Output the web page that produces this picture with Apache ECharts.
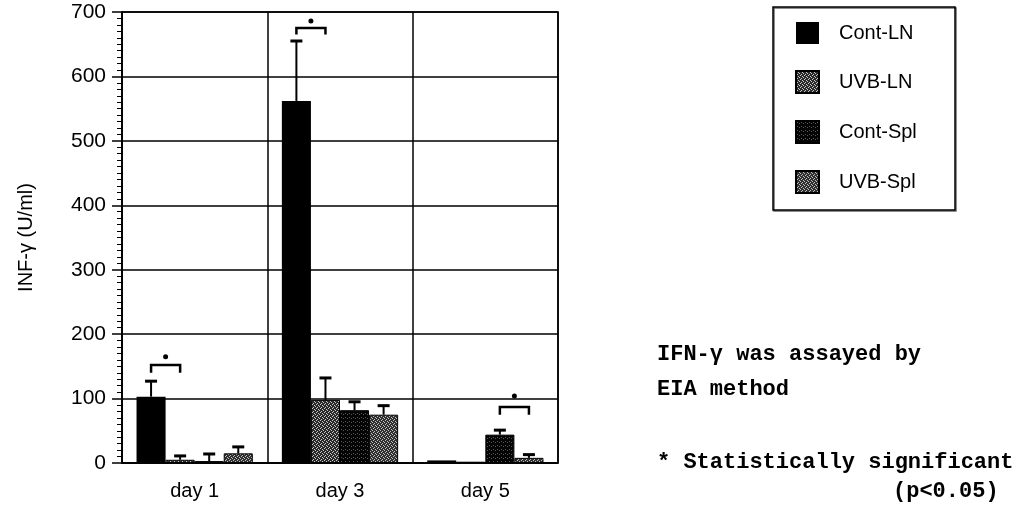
<!DOCTYPE html>
<html>
<head>
<meta charset="utf-8">
<script src="https://cdn.jsdelivr.net/npm/echarts@6/dist/echarts.min.js"></script>
<style>
html, body { margin: 0; padding: 0; background: #fff; }
#chart { width: 1021px; height: 513px; }
</style>
</head>
<body>
<div id="chart"></div>
<script>
var days = ['day 1', 'day 3', 'day 5'];
var groups = ['Cont-LN', 'UVB-LN', 'Cont-Spl', 'UVB-Spl'];

var contLN = [103, 562, 4];
var uvbLN = [5, 98, 2];
var contSpl = [3, 82, 44];
var uvbSpl = [15, 75, 8];

// top of error bar (mean + SD), null = none
var contLNErr = [127, 655, null];
var uvbLNErr = [11, 132, null];
var contSplErr = [14, 95, 51];
var uvbSplErr = [25, 89, 13];

// significance brackets
var sigDay = [0, 1, 2];
var sigFrom = [0, 0, 2];
var sigTo = [1, 1, 3];
var sigTop = [152, 675, 87];
var sigLeg = [140, 665, 75];
var sigStar = [165, 686, 104];

var CAT_GAP = 0.2;
var FONT = 'Liberation Sans';
var NOTE_FONT = 'bold 22px "Liberation Mono"';

function makePattern(bg, fg, dots) {
    var c = document.createElement('canvas');
    c.width = 4;
    c.height = 4;
    var ctx = c.getContext('2d');
    ctx.fillStyle = bg;
    ctx.fillRect(0, 0, 4, 4);
    ctx.fillStyle = fg;
    dots.forEach(function (p) {
        ctx.fillRect(p[0], p[1], 1, 1);
    });
    return {image: c, repeat: 'repeat'};
}

var fills = [
    '#000',
    makePattern('#2a2a2a', '#c8c8c8', [[0, 0], [2, 1], [1, 3], [3, 2]]),
    makePattern('#050505', '#5a5a5a', [[1, 1], [3, 2]]),
    makePattern('#303030', '#c0c0c0', [[1, 0], [3, 1], [0, 2], [2, 3]])
];

var values = [contLN, uvbLN, contSpl, uvbSpl];
var errs = [contLNErr, uvbLNErr, contSplErr, uvbSplErr];

var errData = [];
for (var g = 0; g < groups.length; g++) {
    for (var d = 0; d < days.length; d++) {
        if (errs[g][d] != null) {
            errData.push([d, g, values[g][d], errs[g][d]]);
        }
    }
}

var sigData = [];
for (var i = 0; i < sigDay.length; i++) {
    sigData.push([sigDay[i], sigFrom[i], sigTo[i], sigTop[i], sigLeg[i], sigStar[i]]);
}

function barCenter(api, day, idx) {
    var band = api.size([1, 0])[0];
    var bw = band * (1 - CAT_GAP) / 4;
    return api.coord([day, 0])[0] + (idx - 1.5) * bw;
}

function renderErr(params, api) {
    var d = api.value(0);
    var cx = barCenter(api, d, api.value(1));
    var y0 = api.coord([d, api.value(2)])[1];
    var y1 = api.coord([d, api.value(3)])[1];
    return {
        type: 'group',
        children: [
            {type: 'line', shape: {x1: cx, y1: y0, x2: cx, y2: y1}, style: {stroke: '#000', lineWidth: 2}},
            {type: 'line', shape: {x1: cx - 6, y1: y1, x2: cx + 6, y2: y1}, style: {stroke: '#000', lineWidth: 3}}
        ]
    };
}

function renderSig(params, api) {
    var d = api.value(0);
    var xa = barCenter(api, d, api.value(1));
    var xb = barCenter(api, d, api.value(2));
    var yt = api.coord([d, api.value(3)])[1];
    var yl = api.coord([d, api.value(4)])[1];
    var ys = api.coord([d, api.value(5)])[1];
    return {
        type: 'group',
        children: [
            {
                type: 'polyline',
                shape: {points: [[xa, yl], [xa, yt], [xb, yt], [xb, yl]]},
                style: {stroke: '#000', lineWidth: 2.5, fill: null}
            },
            {type: 'circle', shape: {cx: (xa + xb) / 2, cy: ys, r: 2.5}, style: {fill: '#000'}}
        ]
    };
}

var series = [];
for (var k = 0; k < groups.length; k++) {
    series.push({
        name: groups[k],
        type: 'bar',
        data: values[k],
        barGap: '0%',
        barCategoryGap: (CAT_GAP * 100) + '%',
        itemStyle: {color: fills[k], borderColor: '#000', borderWidth: k === 0 ? 0 : 1},
        z: 3
    });
}
series.push({
    type: 'custom',
    renderItem: renderErr,
    data: errData,
    encode: {x: 0, y: [2, 3]},
    z: 4,
    silent: true
});
series.push({
    type: 'custom',
    renderItem: renderSig,
    data: sigData,
    encode: {x: 0, y: [3, 5]},
    z: 4,
    silent: true
});

var myChart = echarts.init(document.getElementById('chart'));
var option = {
    animation: false,
    backgroundColor: '#fff',
    grid: {
        left: 122,
        right: 463,
        top: 12,
        bottom: 50,
        show: true,
        borderColor: '#000',
        borderWidth: 1.5
    },
    legend: {
        data: groups,
        orient: 'vertical',
        left: 795,
        top: 22,
        padding: 0,
        itemWidth: 23,
        itemHeight: 22,
        itemGap: 26,
        icon: 'rect',
        textStyle: {fontSize: 20, fontFamily: FONT, color: '#000', padding: [0, 0, 0, 15]}
    },
    xAxis: {
        type: 'category',
        data: days,
        axisLine: {lineStyle: {color: '#000', width: 1.5}},
        axisTick: {length: 12, lineStyle: {color: '#000', width: 1.5}},
        axisLabel: {fontSize: 20, fontFamily: FONT, color: '#000', margin: 18},
        splitLine: {show: true, lineStyle: {color: '#000', width: 1.5}}
    },
    yAxis: {
        type: 'value',
        min: 0,
        max: 700,
        interval: 100,
        name: 'INF-γ (U/ml)',
        nameLocation: 'middle',
        nameGap: 86,
        nameTextStyle: {fontSize: 20, fontFamily: FONT, color: '#000'},
        axisLine: {show: true, lineStyle: {color: '#000', width: 1.5}},
        axisTick: {show: true, length: 10, lineStyle: {color: '#000', width: 1.5}},
        minorTick: {show: true, splitNumber: 10, length: 5, lineStyle: {color: '#000'}},
        axisLabel: {fontSize: 21, fontFamily: FONT, color: '#000', margin: 16},
        splitLine: {lineStyle: {color: '#000', width: 1.5}}
    },
    graphic: [
        {
            type: 'rect',
            shape: {x: 773, y: 7, width: 182, height: 203},
            style: {fill: null, stroke: '#000', lineWidth: 1.5, shadowColor: 'rgba(0,0,0,0.6)', shadowOffsetX: 1, shadowOffsetY: 1}
        },
        {
            type: 'text', left: 657, top: 343,
            style: {text: 'IFN-γ was assayed by', font: NOTE_FONT, fill: '#000'}
        },
        {
            type: 'text', left: 657, top: 378,
            style: {text: 'EIA method', font: NOTE_FONT, fill: '#000'}
        },
        {
            type: 'text', left: 657, top: 451,
            style: {text: '* Statistically significant', font: NOTE_FONT, fill: '#000'}
        },
        {
            type: 'text', left: 893, top: 480,
            style: {text: '(p<0.05)', font: NOTE_FONT, fill: '#000'}
        }
    ],
    series: series
};

if (option && typeof option === "object") {
    myChart.setOption(option, true);
}
</script>
</body>
</html>
